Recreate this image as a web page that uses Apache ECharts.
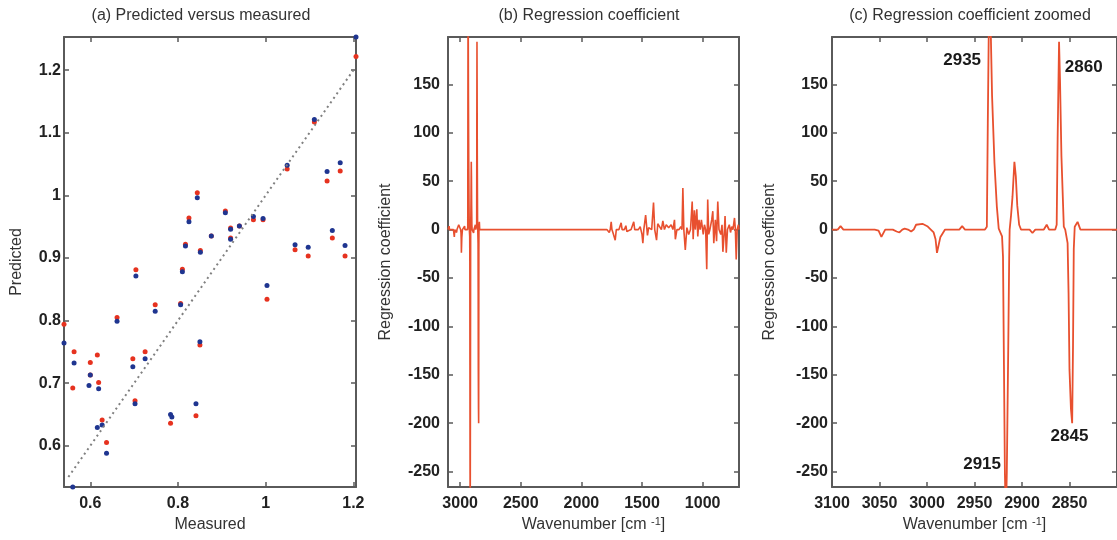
<!DOCTYPE html>
<html><head><meta charset="utf-8">
<script src="https://cdn.jsdelivr.net/npm/echarts@6/dist/echarts.min.js"></script>
<style>html,body{margin:0;padding:0;background:#fff}#c{width:1117px;height:540px}</style>
</head><body><div id="c"></div><script>
// ---------- Panel (a) data ----------
const measuredRed = [0.540,0.563,0.560,0.600,0.600,0.616,0.619,0.627,0.637,0.661,0.697,0.702,0.704,0.725,0.748,0.783,0.806,0.810,0.817,0.825,0.841,0.844,0.850,0.851,0.876,0.908,0.920,0.920,0.940,0.972,0.994,1.003,1.049,1.067,1.097,1.111,1.140,1.152,1.170,1.181,1.206];
const predictedRed = [0.794,0.750,0.692,0.733,0.713,0.745,0.701,0.641,0.605,0.805,0.739,0.672,0.881,0.750,0.825,0.636,0.827,0.882,0.922,0.964,0.648,1.004,0.761,0.912,0.935,0.975,0.948,0.932,0.951,0.961,0.961,0.834,1.042,0.913,0.903,1.117,1.023,0.932,1.039,0.903,1.222];
const measuredBlue = [0.540,0.563,0.560,0.600,0.597,0.619,0.627,0.616,0.637,0.661,0.697,0.702,0.704,0.725,0.748,0.783,0.786,0.806,0.810,0.817,0.825,0.841,0.844,0.850,0.851,0.876,0.908,0.920,0.920,0.940,0.972,0.994,1.003,1.049,1.067,1.097,1.111,1.140,1.152,1.170,1.181,1.206];
const predictedBlue = [0.764,0.732,0.534,0.713,0.696,0.691,0.633,0.629,0.588,0.799,0.726,0.667,0.871,0.739,0.815,0.650,0.646,0.825,0.878,0.919,0.958,0.667,0.996,0.766,0.909,0.935,0.972,0.946,0.930,0.951,0.966,0.963,0.856,1.048,0.921,0.917,1.121,1.038,0.944,1.052,0.920,1.253];
const identityLine = [0.55, 1.2];
const aXTicks = [0.6, 0.8, 1, 1.2];
const aYTicks = [0.6, 0.7, 0.8, 0.9, 1, 1.1, 1.2];

// ---------- Panels (b)/(c) data ----------
const wavenumbers = [3100,3094,3091,3088,3055,3051,3048,3044,3036,3032,3029,3026,3023.5,3020,3016.7,3014,3011.5,3004.8,2999.7,2996,2993,2991,2989.5,2986,2981,2966,2963,2960,2939,2937,2936,2934.5,2933,2931.5,2929,2926.5,2924.5,2923,2921,2920,2919,2918,2917,2916,2914.5,2913.5,2913,2911.5,2910,2908,2906.5,2905,2903,2901,2892,2889,2886,2877,2874,2871.5,2865,2863.5,2862.5,2861,2860,2858.5,2856,2854.5,2852,2851,2850,2848.5,2847.2,2846.3,2845.5,2844.5,2841.5,2838.5,
1790,1770,1762,1754,1748,1740,1721,1712,1690,1672,1664,1645,1633,1625,1610,1590,1568,1560,1530,1515,1500,1493,1485,1470,1462,1455,1445,1420,1405,1395,1380,1370,1355,1340,1328,1315,1300,1280,1260,1245,1232,1225,1212,1195,1180,1170,1163,1155,1143,1130,1115,1100,1086,1078,1068,1060,1048,1040,1030,1020,1010,995,985,975,966,958,950,940,925,916,908,895,885,875,865,850,840,833,820,815,805,795,780,770,760,750,737,730,723,715,705,700];
const coefficients = [0,0,3.5,0,0,-1,-7.5,0,0,-2,-3,0,1,0,-2,0,5,6,3.5,0,-3,-10,-24,-8,0,0,3.5,0,0,3,110,250,210,138,69,24,1,0,-7,-28,-140,-252,-300,-252,-124,-30,0,15,34,70,55,25,5,0,0,-3.5,0,0,5,0,0,5,93,194,155,76,3,0,-14,-65,-145,-185,-200,-120,-20,3,8,0,
0,-3,0,8,0,-3,-11,0,0,7,0,0,4,-2,0,0,8,0,0,3,-5,-14,0,15,15,-6,2,0,28,0,-11,6,6,0,9,0,5,2,5,0,10,-10,0,0,3,0,43,0,-21,2,-5,0,29,-10,20,0,21,-7,10,0,10,-5,5,0,-41,31,-5,0,10,19,-14,10,-12,29,0,-5,5,-23,0,14,-24,0,5,-3,3,0,12,0,-31,0,5,0];
const bXTicks = [3000, 2500, 2000, 1500, 1000];
const cXTicks = [3100, 3050, 3000, 2950, 2900, 2850];
const coefTicks = [-250, -200, -150, -100, -50, 0, 50, 100, 150];
const peakLabels = ['2935', '2860', '2915', '2845'];
const peakLabelPos = [[2963, 175], [2835, 168], [2942, -243], [2850, -214]];

// ---------- styling ----------
const FONT = '"Liberation Sans", Arial, Helvetica, sans-serif';
const axisCol = '#5a5a5a';
const tickLabel = {color: '#222', fontWeight: 'bold', fontSize: 16, fontFamily: FONT};
const nameStyle = {color: '#333', fontSize: 16, fontFamily: FONT,
  rich: {sup: {fontSize: 11, fontFamily: FONT, color: '#333', verticalAlign: 'top', lineHeight: 10}}};
const fmt = v => String(v);

function xPair(g, min, max, ticks, inverse, name, labelMargin) {
  const common = {type: 'value', gridIndex: g, min, max, inverse, splitLine: {show: false},
    axisLine: {show: true, onZero: false, lineStyle: {color: axisCol, width: 2}},
    axisTick: {show: true, inside: true, length: 5, customValues: ticks, lineStyle: {color: axisCol, width: 1.5}}};
  return [
    Object.assign({}, common, {position: 'bottom', name, nameLocation: 'middle', nameGap: 29, nameTextStyle: nameStyle,
      axisLabel: Object.assign({customValues: ticks, formatter: fmt, margin: labelMargin}, tickLabel)}),
    Object.assign({}, common, {position: 'top', axisLabel: {show: false}})
  ];
}
function yPair(g, min, max, ticks, name, nameGap, labelMargin) {
  const common = {type: 'value', gridIndex: g, min, max, splitLine: {show: false},
    axisLine: {show: true, onZero: false, lineStyle: {color: axisCol, width: 2}},
    axisTick: {show: true, inside: true, length: 5, customValues: ticks, lineStyle: {color: axisCol, width: 1.5}}};
  return [
    Object.assign({}, common, {position: 'left', name, nameLocation: 'middle', nameGap, nameTextStyle: nameStyle,
      axisLabel: Object.assign({customValues: ticks, formatter: fmt, margin: labelMargin}, tickLabel)}),
    Object.assign({}, common, {position: 'right', axisLabel: {show: false}})
  ];
}

const wnName = 'Wavenumber [cm {sup|-1}]';
const xAxes = [].concat(
  xPair(0, 0.54, 1.206, aXTicks, false, 'Measured', 9),
  xPair(1, 700, 3100, bXTicks, true, wnName, 9),
  xPair(2, 2800, 3100, cXTicks, true, wnName, 9)
);
const yAxes = [].concat(
  yPair(0, 0.534, 1.253, aYTicks, 'Predicted', 39, 3),
  yPair(1, -266, 199, coefTicks, 'Regression coefficient', 54, 8),
  yPair(2, -266, 199, coefTicks, 'Regression coefficient', 54, 4)
);

const spectrum = wavenumbers.map((w, i) => [w, coefficients[i]]);
const lineColor = '#e8502f';

const option = {
  animation: false,
  backgroundColor: '#fff',
  title: [
    {text: '(a) Predicted versus measured', left: 201, top: 8, textAlign: 'center', padding: 0, textStyle: {fontSize: 16, fontWeight: 'normal', color: '#333', fontFamily: FONT}},
    {text: '(b) Regression coefficient', left: 589, top: 8, textAlign: 'center', padding: 0, textStyle: {fontSize: 16, fontWeight: 'normal', color: '#333', fontFamily: FONT}},
    {text: '(c) Regression coefficient zoomed', left: 970, top: 8, textAlign: 'center', padding: 0, textStyle: {fontSize: 16, fontWeight: 'normal', color: '#333', fontFamily: FONT}}
  ],
  grid: [
    {left: 64, top: 37, width: 292, height: 450},
    {left: 448, top: 37, width: 291, height: 450},
    {left: 832, top: 37, right: -7, height: 450}
  ],
  xAxis: xAxes,
  yAxis: yAxes,
  series: [
    {type: 'line', xAxisIndex: 0, yAxisIndex: 0, data: identityLine.map(v => [v, v]), showSymbol: false, silent: true,
      lineStyle: {color: '#808080', width: 2, type: [2, 3.5]}},
    {type: 'scatter', xAxisIndex: 0, yAxisIndex: 0, data: measuredRed.map((m, i) => [m, predictedRed[i]]),
      symbolSize: 5, itemStyle: {color: '#e6321f', opacity: 1}, silent: true},
    {type: 'scatter', xAxisIndex: 0, yAxisIndex: 0, data: measuredBlue.map((m, i) => [m, predictedBlue[i]]),
      symbolSize: 5, itemStyle: {color: '#1f3590', opacity: 1}, silent: true},
    {type: 'line', xAxisIndex: 2, yAxisIndex: 2, data: spectrum, showSymbol: false, clip: true, silent: true,
      lineStyle: {color: lineColor, width: 1.6}},
    {type: 'line', xAxisIndex: 4, yAxisIndex: 4, data: spectrum, showSymbol: false, clip: true, silent: true,
      lineStyle: {color: lineColor, width: 1.8}},
    {type: 'scatter', xAxisIndex: 4, yAxisIndex: 4, silent: true, symbolSize: 0, itemStyle: {opacity: 1},
      data: peakLabels.map((t, i) => [peakLabelPos[i][0], peakLabelPos[i][1], t]),
      label: {show: true, position: 'inside', formatter: p => p.data[2], color: '#1a1a1a', fontWeight: 'bold', fontSize: 17,
        fontFamily: FONT, textBorderWidth: 0, textBorderColor: 'transparent', opacity: 1}}
  ]
};
const chart = echarts.init(document.getElementById('c'), null, {renderer: 'canvas'});
chart.setOption(option);
</script></body></html>
